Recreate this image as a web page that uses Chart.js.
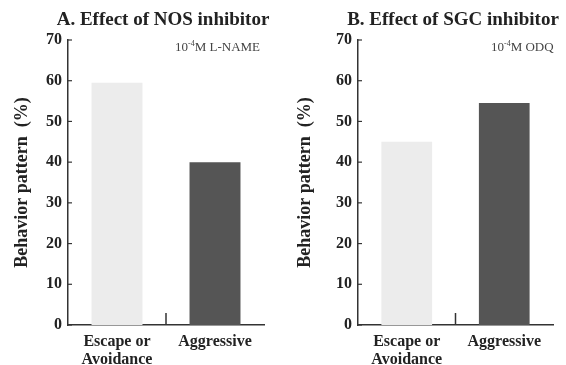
<!DOCTYPE html>
<html>
<head>
<meta charset="utf-8">
<script src="https://cdn.jsdelivr.net/npm/chart.js@4/dist/chart.umd.min.js"></script>
<style>
  html, body { margin:0; padding:0; background:#fff; }
  #wrap { position:relative; width:566px; height:365px; overflow:hidden; }
  .panel { position:absolute; top:0; width:283px; height:365px; }
  .ttl { position:absolute; font-family:"Liberation Serif","DejaVu Serif",serif; font-weight:bold; font-size:19px; color:#222; white-space:nowrap; transform:translateX(-50%); top:8px; }
  .ann { position:absolute; font-family:"Liberation Serif","DejaVu Serif",serif; font-size:13px; color:#444; white-space:nowrap; top:39px; }
</style>
</head>
<body>
<div id="wrap">
  <div class="panel" style="left:0"><canvas id="cA" width="283" height="365"></canvas></div>
  <div class="panel" style="left:283px"><canvas id="cB" width="283" height="365"></canvas></div>
  <div class="ttl" style="left:163px">A. Effect of NOS inhibitor</div>
  <div class="ttl" style="left:453px">B. Effect of SGC inhibitor</div>
  <div class="ann" style="left:175px">10<sup style="font-size:8px">-4</sup>M L-NAME</div>
  <div class="ann" style="left:491px">10<sup style="font-size:8px">-4</sup>M ODQ</div>
</div>
<script>
const categories = [['Escape or', 'Avoidance'], 'Aggressive'];
const nosValues = [59.5, 40];
const sgcValues = [45, 54.5];
const yMin = 0, yMax = 70, yStep = 10;
const yTitle = 'Behavior pattern  (%)';
const barColors = ['#ececec', '#555555'];

const serif = '"Liberation Serif","DejaVu Serif",serif';

const marksPlugin = {
  id: 'marks',
  afterDraw(chart) {
    const ctx = chart.ctx, y = chart.scales.y, x = chart.scales.x;
    ctx.save();
    ctx.strokeStyle = '#333';
    ctx.lineWidth = 1.2;
    y.ticks.forEach(t => {
      const py = y.getPixelForValue(t.value);
      ctx.beginPath(); ctx.moveTo(y.right, py); ctx.lineTo(y.right + 4, py); ctx.stroke();
    });
    const px = x.getPixelForValue(0.5);
    ctx.lineWidth = 1.5;
    ctx.beginPath(); ctx.moveTo(px, chart.chartArea.bottom); ctx.lineTo(px, chart.chartArea.bottom - 12); ctx.stroke();
    ctx.restore();
  }
};

function makeChart(id, values, padRight) {
  return new Chart(document.getElementById(id), {
    type: 'bar',
    data: {
      labels: categories,
      datasets: [{
        data: values,
        backgroundColor: barColors,
        borderWidth: 0,
        barPercentage: 1,
        categoryPercentage: 0.52
      }]
    },
    options: {
      responsive: false,
      animation: false,
      layout: { padding: { top: 40, right: padRight, bottom: 0, left: 0 } },
      plugins: { legend: { display: false }, tooltip: { enabled: false }, title: { display: false } },
      scales: {
        x: {
          grid: { display: false, drawTicks: false },
          border: { display: true, color: '#333', width: 1.5 },
          ticks: { color: '#222', font: { family: serif, size: 16, weight: 'bold', lineHeight: 1.1 }, padding: 8, maxRotation: 0 },
          afterFit(s) { s.height = 40; }
        },
        y: {
          min: yMin, max: yMax,
          grid: { display: false, drawTicks: false },
          border: { display: true, color: '#333', width: 1.5 },
          ticks: { stepSize: yStep, color: '#222', font: { family: serif, size: 16, weight: 'bold' }, padding: 6 },
          title: { display: true, text: yTitle, color: '#222', font: { family: serif, size: 18, weight: 'bold' }, padding: { top: 12, bottom: 0 } },
          afterFit(s) { s.width = id === 'cA' ? 68 : 75; }
        }
      }
    },
    plugins: [marksPlugin]
  });
}

makeChart('cA', nosValues, 19);
makeChart('cB', sgcValues, 13);
</script>
</body>
</html>
